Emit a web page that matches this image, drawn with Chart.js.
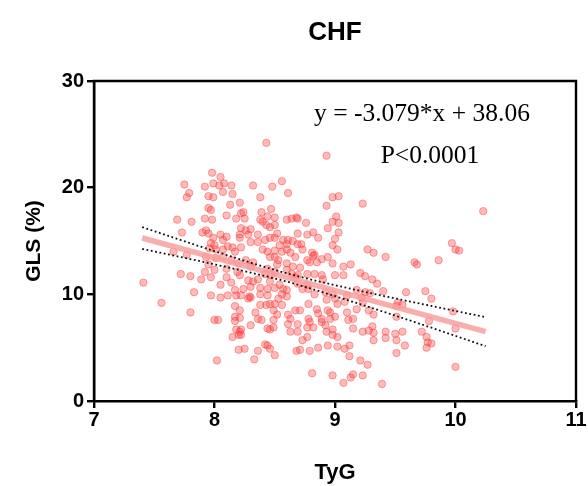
<!DOCTYPE html>
<html>
<head>
<meta charset="utf-8">
<script src="https://cdn.jsdelivr.net/npm/chart.js@4.4.1/dist/chart.umd.min.js"></script>
<style>
  html, body { margin: 0; padding: 0; background: #ffffff; }
  #wrap { width: 588px; height: 486px; }
</style>
</head>
<body>
<div id="wrap"><canvas id="c" width="588" height="486"></canvas></div>
<script>
const titleText = "CHF";
const xTitle = "TyG";
const yTitle = "GLS (%)";
const equationText = "y = -3.079*x + 38.06";
const pText = "P<0.0001";
const xTicks = [7, 8, 9, 10, 11];
const yTicks = [0, 10, 20, 30];

const tyg = [
7.41,7.56,7.72,7.80,7.83,7.80,7.75,7.79,7.77,7.69,7.81,7.73,7.66,7.77,
7.98,8.05,7.92,7.99,8.04,8.08,8.14,8.07,8.15,7.95,7.99,8.32,8.48,8.38,8.13,8.21,
7.95,7.97,8.22,8.24,8.10,8.18,7.92,7.98,8.25,8.39,8.47,8.44,8.38,8.40,8.50,8.50,
8.43,8.46,8.22,8.26,8.30,8.36,7.90,7.95,7.93,7.99,8.05,8.07,8.10,8.21,8.21,8.28,
8.30,8.36,8.42,8.46,8.50,7.97,8.00,8.01,7.96,8.07,8.11,8.15,8.17,8.22,8.40,8.44,
8.50,8.46,8.50,7.93,8.01,8.07,8.20,8.26,8.32,8.14,8.43,8.93,8.56,8.61,8.98,9.03,
8.93,9.01,8.98,9.03,9.03,8.94,8.60,8.64,8.68,8.69,8.76,8.69,8.77,8.82,8.86,8.52,
8.57,8.61,8.65,8.54,8.60,8.69,8.72,9.00,8.98,9.02,8.56,8.60,8.63,8.67,8.73,8.81,
8.82,8.83,8.77,8.79,8.85,8.89,8.94,8.98,8.53,8.60,7.92,8.00,7.95,8.10,8.19,8.21,
8.30,8.44,8.42,8.47,8.50,7.89,7.97,8.10,8.14,8.28,8.32,8.36,8.46,8.05,8.17,8.24,
8.30,8.38,8.44,8.50,7.97,8.05,8.11,8.18,8.22,8.29,8.38,8.44,8.28,8.30,8.17,8.21,
8.38,8.43,8.46,8.50,8.49,8.34,8.17,8.21,8.00,8.03,8.17,8.30,8.36,8.39,8.49,8.44,
8.46,8.49,8.18,8.21,8.22,8.15,8.20,8.22,8.42,8.44,8.20,8.25,8.36,8.46,8.50,8.52,
8.60,8.65,8.71,9.07,8.64,8.67,8.69,8.77,8.83,8.89,8.90,9.00,9.07,8.54,8.57,8.60,
8.56,8.69,8.73,8.77,8.78,8.83,8.92,8.98,8.53,8.60,8.56,8.93,9.00,9.02,9.08,8.78,
8.67,8.71,8.85,8.86,8.94,8.96,9.10,8.52,8.61,8.63,8.78,8.79,8.89,8.96,9.00,8.61,
8.69,8.77,8.82,8.89,8.92,8.63,8.69,8.93,8.98,8.98,9.02,8.73,8.77,8.71,8.79,8.86,
8.94,9.02,9.08,9.12,8.68,8.02,8.33,8.81,8.98,9.07,9.13,9.39,9.15,9.23,10.23,9.97,
10.00,10.03,9.27,9.32,9.42,9.66,9.68,9.86,9.13,9.21,9.25,9.31,9.35,9.40,9.18,9.25,
9.29,9.10,9.22,9.23,9.59,9.75,9.80,9.52,9.51,9.56,9.28,9.32,9.18,9.98,9.51,9.78,
9.11,9.15,9.15,10.00,9.23,9.28,9.32,9.31,9.32,9.42,9.42,9.50,9.56,9.51,9.58,9.72,
9.76,9.77,9.80,9.76,9.51,9.12,9.21,9.27,9.23,10.00
];
const gls = [
11.1,9.2,11.9,11.7,10.2,8.3,20.3,19.5,19.1,17.0,16.8,15.8,14.0,13.7,
21.4,21.0,20.1,20.4,20.2,20.4,20.2,19.6,19.4,19.2,19.1,20.2,20.1,19.1,18.4,18.6,
18.1,17.9,17.6,17.7,17.4,17.1,17.1,17.0,17.1,17.7,18.0,17.3,17.0,16.8,17.2,16.5,
16.5,16.3,16.2,16.0,16.1,15.6,15.8,15.7,16.0,15.3,15.6,15.1,15.4,15.6,15.3,15.6,
14.9,14.9,15.1,15.3,15.3,14.8,14.6,14.2,14.3,14.2,14.5,14.4,14.0,14.4,14.2,14.0,
14.1,13.5,13.5,13.5,13.4,13.5,12.9,13.2,13.0,13.2,24.2,23.0,20.6,19.5,19.1,19.2,
18.3,17.3,16.8,16.7,15.8,16.2,17.0,17.1,17.2,17.1,16.7,15.7,15.6,15.8,15.3,15.7,
15.1,15.1,15.0,14.6,14.7,14.7,14.7,15.2,14.6,14.2,14.0,14.2,13.9,13.5,14.2,13.9,
13.6,13.7,13.2,13.0,13.0,13.3,13.5,12.9,13.2,12.9,12.1,12.3,12.8,12.4,12.1,11.8,
12.6,12.4,11.9,11.8,12.1,11.4,11.6,11.6,11.1,11.3,11.2,11.4,11.2,10.9,10.4,10.5,
10.7,10.6,10.5,10.6,9.9,9.7,9.9,9.9,9.9,9.8,10.0,9.9,9.6,9.7,8.9,8.5,
9.0,9.0,9.1,9.1,8.5,8.3,7.9,7.8,7.6,7.6,7.5,7.1,7.7,7.6,7.6,6.8,
6.7,6.9,6.7,6.5,6.7,6.0,6.2,6.2,5.3,5.2,4.8,4.9,4.7,4.9,4.3,12.8,
12.3,12.6,12.5,12.6,11.9,11.6,11.8,11.9,11.9,11.8,11.4,11.8,11.8,10.9,10.5,10.4,
10.0,11.0,10.5,10.9,10.5,10.0,10.2,10.0,9.6,9.8,9.0,9.5,9.6,9.1,9.3,9.1,
8.5,8.5,8.6,8.2,8.5,8.3,8.3,8.1,8.1,7.7,7.7,7.4,7.7,7.7,7.9,7.2,
7.2,6.9,6.9,7.4,7.1,6.5,6.5,6.5,6.7,6.2,6.0,5.7,6.0,4.8,4.7,5.0,
5.2,5.1,4.9,5.2,4.7,3.8,3.9,2.6,2.4,1.7,2.2,1.6,2.5,18.5,17.8,14.8,
14.2,14.1,14.2,13.9,13.5,13.0,12.8,13.2,12.8,12.0,11.7,11.4,11.0,10.3,10.4,10.2,
10.1,9.9,9.7,9.2,10.2,10.3,9.6,9.2,8.9,9.0,8.5,8.1,8.6,8.4,7.9,7.5,
7.6,7.7,6.8,6.8,6.5,6.6,6.4,7.0,5.7,6.5,5.9,6.3,6.5,5.7,5.2,6.5,
6.0,5.5,5.4,5.0,4.5,4.2,3.8,3.4,2.4,3.2
];

// regression line endpoints (from y = -3.079*x + 38.06)
const fitX = [7.4, 10.25];
const fitY = [15.28, 6.50];
// 95% confidence band
const bandX = [7.4, 8.0, 8.6, 9.2, 9.8, 10.25];
const bandUpper = [16.3, 14.05, 11.97, 10.35, 8.91, 7.86];
const bandLower = [14.26, 12.81, 11.19, 9.11, 6.87, 5.14];

const pts = tyg.map((x, i) => ({ x: x, y: gls[i] }));
const fitPts = fitX.map((x, i) => ({ x: x, y: fitY[i] }));
const upPts = bandX.map((x, i) => ({ x: x, y: bandUpper[i] }));
const loPts = bandX.map((x, i) => ({ x: x, y: bandLower[i] }));

const SANS = '"Liberation Sans", Arial, Helvetica, sans-serif';
const SERIF = '"Liberation Serif", "Times New Roman", serif';

const framePlugin = {
  id: 'frameAndText',
  afterDraw(chart) {
    const { ctx, chartArea } = chart;
    const { left, right, top, bottom } = chartArea;
    ctx.save();
    ctx.strokeStyle = '#000';
    ctx.lineWidth = 2.4;
    ctx.beginPath();
    ctx.moveTo(left, bottom);
    ctx.lineTo(left, top);
    ctx.lineTo(right, top);
    ctx.lineTo(right, bottom);
    ctx.stroke();
    ctx.fillStyle = '#000';
    ctx.textAlign = 'center';
    ctx.textBaseline = 'alphabetic';
    ctx.font = 'bold 26px ' + SANS;
    ctx.fillText(titleText, (left + right) / 2, 40);
    ctx.font = '25.5px ' + SERIF;
    ctx.fillText(equationText, 422, 121);
    ctx.fillText(pText, 430, 163);
    ctx.restore();
  }
};

new Chart(document.getElementById('c'), {
  type: 'scatter',
  data: {
    datasets: [
      {
        label: 'points',
        data: pts,
        pointRadius: 3.7,
        pointBackgroundColor: 'rgba(255, 60, 60, 0.36)',
        pointBorderColor: 'rgba(245, 60, 60, 0.42)',
        pointBorderWidth: 1,
        order: 3
      },
      {
        label: 'fit',
        data: fitPts,
        showLine: true,
        pointRadius: 0,
        borderColor: 'rgba(248, 160, 160, 0.85)',
        borderWidth: 5.5,
        order: 2
      },
      {
        label: 'upper',
        data: upPts,
        showLine: true,
        pointRadius: 0,
        borderColor: '#111',
        borderWidth: 1.8,
        borderDash: [1.8, 2.6],
        cubicInterpolationMode: 'monotone',
        order: 1
      },
      {
        label: 'lower',
        data: loPts,
        showLine: true,
        pointRadius: 0,
        borderColor: '#111',
        borderWidth: 1.8,
        borderDash: [1.8, 2.6],
        cubicInterpolationMode: 'monotone',
        order: 1
      }
    ]
  },
  options: {
    responsive: false,
    animation: false,
    layout: { padding: { top: 81, right: 12, bottom: 0, left: 0 } },
    plugins: {
      legend: { display: false },
      title: { display: false },
      tooltip: { enabled: false }
    },
    scales: {
      x: {
        type: 'linear',
        min: 7,
        max: 11,
        afterBuildTicks(scale) { scale.ticks = xTicks.map(v => ({ value: v })); },
        afterFit(scale) { scale.height = 85; },
        ticks: {
          color: '#000',
          font: { family: SANS, size: 20, weight: 'bold' },
          padding: 0,
          maxRotation: 0
        },
        grid: {
          display: true,
          drawOnChartArea: false,
          drawTicks: true,
          tickLength: 7,
          color: '#000',
          lineWidth: 2.4
        },
        border: { display: true, color: '#000', width: 2.4 },
        title: {
          display: true,
          text: xTitle,
          color: '#000',
          font: { family: SANS, size: 22, weight: 'bold' },
          padding: { top: 14, bottom: 0 }
        }
      },
      y: {
        type: 'linear',
        min: 0,
        max: 30,
        afterBuildTicks(scale) { scale.ticks = yTicks.map(v => ({ value: v })); },
        afterFit(scale) { scale.width = 94; },
        ticks: {
          color: '#000',
          font: { family: SANS, size: 20, weight: 'bold' },
          padding: 3
        },
        grid: {
          display: true,
          drawOnChartArea: false,
          drawTicks: true,
          tickLength: 7,
          color: '#000',
          lineWidth: 2.4
        },
        border: { display: true, color: '#000', width: 2.4 },
        title: {
          display: true,
          text: yTitle,
          color: '#000',
          font: { family: SANS, size: 21, weight: 'bold' },
          padding: { top: 22, bottom: 0 }
        }
      }
    }
  },
  plugins: [framePlugin]
});
</script>
</body>
</html>
